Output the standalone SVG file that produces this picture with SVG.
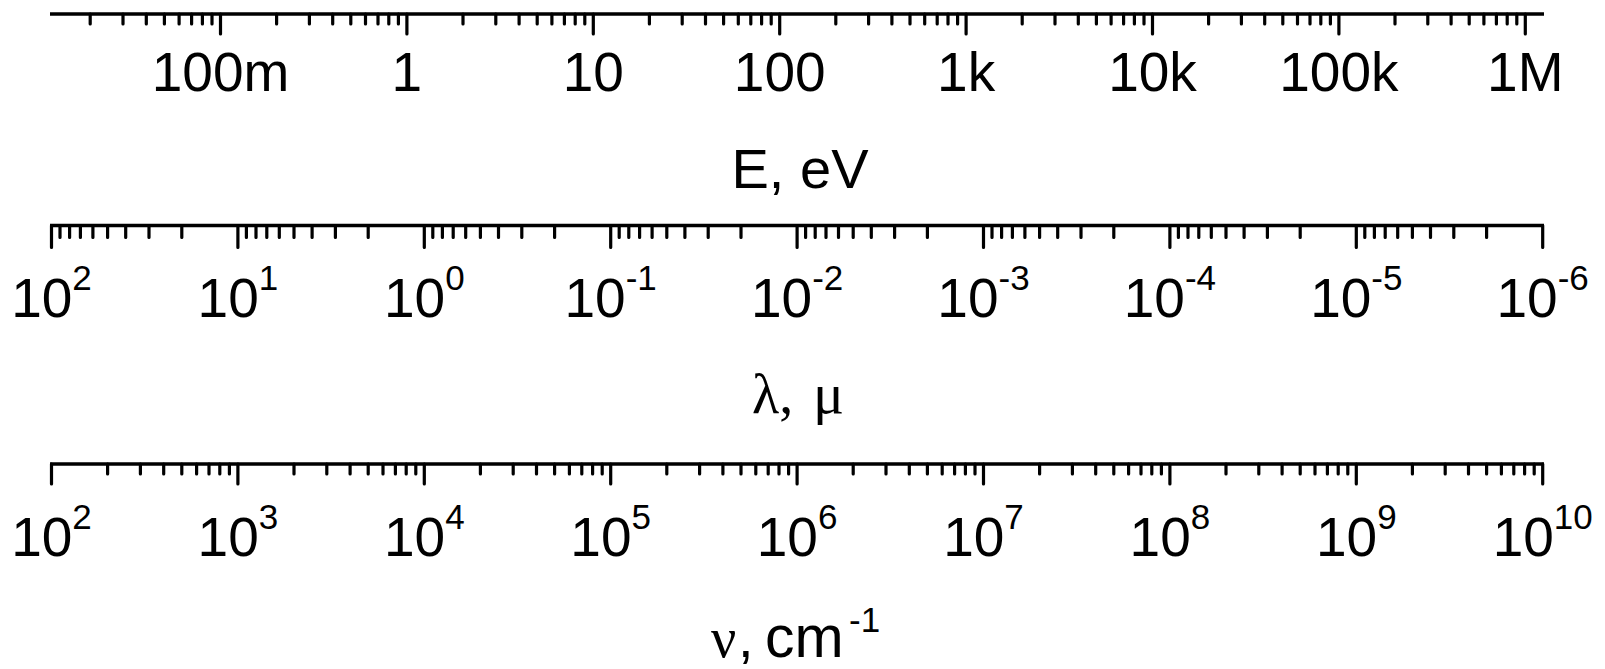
<svg xmlns="http://www.w3.org/2000/svg" width="1605" height="669" viewBox="0 0 1605 669">
<style>
.axis{stroke:#000;stroke-width:3.6;fill:none}
.tick{stroke:#000;stroke-width:3.2;fill:none;stroke-linecap:round}
.lbl{font-family:"Liberation Sans",Arial,sans-serif;font-size:55px;fill:#000;text-anchor:middle}
.sup{font-size:35px}
.title{font-family:"Liberation Sans",Arial,sans-serif;font-size:56px;fill:#000}
.mid{text-anchor:middle}
.serif{font-family:"Liberation Serif","Times New Roman",serif}
</style>
<rect width="1605" height="669" fill="#fff"/>
<g id="axis-E">
<line class="axis" x1="50" y1="14" x2="1544" y2="14"/>
<path class="tick" d="M220.5 14v20M406.9 14v20M593.3 14v20M779.7 14v20M966.1 14v20M1152.5 14v20M1338.9 14v20M1525.3 14v20"/>
<path class="tick" d="M90.2 14v10M123 14v10M146.3 14v10M164.4 14v10M179.1 14v10M191.6 14v10M202.4 14v10M212 14v10M276.6 14v10M309.4 14v10M332.7 14v10M350.8 14v10M365.5 14v10M378 14v10M388.8 14v10M398.4 14v10M463 14v10M495.8 14v10M519.1 14v10M537.2 14v10M551.9 14v10M564.4 14v10M575.2 14v10M584.8 14v10M649.4 14v10M682.2 14v10M705.5 14v10M723.6 14v10M738.3 14v10M750.8 14v10M761.6 14v10M771.2 14v10M835.8 14v10M868.6 14v10M891.9 14v10M910 14v10M924.7 14v10M937.2 14v10M948 14v10M957.6 14v10M1022.2 14v10M1055 14v10M1078.3 14v10M1096.4 14v10M1111.1 14v10M1123.6 14v10M1134.4 14v10M1144 14v10M1208.6 14v10M1241.4 14v10M1264.7 14v10M1282.8 14v10M1297.5 14v10M1310 14v10M1320.8 14v10M1330.4 14v10M1395 14v10M1427.8 14v10M1451.1 14v10M1469.2 14v10M1483.9 14v10M1496.4 14v10M1507.2 14v10M1516.8 14v10"/>
<text class="lbl" x="220.5" y="90.5">100m</text>
<text class="lbl" x="406.9" y="90.5">1</text>
<text class="lbl" x="593.3" y="90.5">10</text>
<text class="lbl" x="779.7" y="90.5">100</text>
<text class="lbl" x="966.1" y="90.5">1k</text>
<text class="lbl" x="1152.5" y="90.5">10k</text>
<text class="lbl" x="1338.9" y="90.5">100k</text>
<text class="lbl" x="1525.3" y="90.5">1M</text>
<text class="title mid" x="800" y="188">E, eV</text>
</g>
<g id="axis-lambda">
<line class="axis" x1="50" y1="225.5" x2="1544" y2="225.5"/>
<path class="tick" d="M51.5 225.5v22M237.9 225.5v22M424.3 225.5v22M610.7 225.5v22M797.1 225.5v22M983.5 225.5v22M1169.9 225.5v22M1356.3 225.5v22M1542.7 225.5v22"/>
<path class="tick" d="M60 225.5v12M69.6 225.5v12M80.4 225.5v12M92.9 225.5v12M107.6 225.5v12M125.7 225.5v12M149 225.5v12M181.8 225.5v12M246.4 225.5v12M256 225.5v12M266.8 225.5v12M279.3 225.5v12M294 225.5v12M312.1 225.5v12M335.4 225.5v12M368.2 225.5v12M432.8 225.5v12M442.4 225.5v12M453.2 225.5v12M465.7 225.5v12M480.4 225.5v12M498.5 225.5v12M521.8 225.5v12M554.6 225.5v12M619.2 225.5v12M628.8 225.5v12M639.6 225.5v12M652.1 225.5v12M666.8 225.5v12M684.9 225.5v12M708.2 225.5v12M741 225.5v12M805.6 225.5v12M815.2 225.5v12M826 225.5v12M838.5 225.5v12M853.2 225.5v12M871.3 225.5v12M894.6 225.5v12M927.4 225.5v12M992 225.5v12M1001.6 225.5v12M1012.4 225.5v12M1024.9 225.5v12M1039.6 225.5v12M1057.7 225.5v12M1081 225.5v12M1113.8 225.5v12M1178.4 225.5v12M1188 225.5v12M1198.8 225.5v12M1211.3 225.5v12M1226 225.5v12M1244.1 225.5v12M1267.4 225.5v12M1300.2 225.5v12M1364.8 225.5v12M1374.4 225.5v12M1385.2 225.5v12M1397.7 225.5v12M1412.4 225.5v12M1430.5 225.5v12M1453.8 225.5v12M1486.6 225.5v12"/>
<text class="lbl" x="51.5" y="317">10<tspan class="sup" dy="-27">2</tspan></text>
<text class="lbl" x="237.9" y="317">10<tspan class="sup" dy="-27">1</tspan></text>
<text class="lbl" x="424.3" y="317">10<tspan class="sup" dy="-27">0</tspan></text>
<text class="lbl" x="610.7" y="317">10<tspan class="sup" dy="-27">-1</tspan></text>
<text class="lbl" x="797.1" y="317">10<tspan class="sup" dy="-27">-2</tspan></text>
<text class="lbl" x="983.5" y="317">10<tspan class="sup" dy="-27">-3</tspan></text>
<text class="lbl" x="1169.9" y="317">10<tspan class="sup" dy="-27">-4</tspan></text>
<text class="lbl" x="1356.3" y="317">10<tspan class="sup" dy="-27">-5</tspan></text>
<text class="lbl" x="1542.7" y="317">10<tspan class="sup" dy="-27">-6</tspan></text>
<text class="title serif" x="752" y="413">λ,<tspan x="813" font-size="58">μ</tspan></text>
</g>
<g id="axis-nu">
<line class="axis" x1="50" y1="464" x2="1544" y2="464"/>
<path class="tick" d="M51.5 464v20M237.9 464v20M424.3 464v20M610.7 464v20M797.1 464v20M983.5 464v20M1169.9 464v20M1356.3 464v20M1542.7 464v20"/>
<path class="tick" d="M107.6 464v10M140.4 464v10M163.7 464v10M181.8 464v10M196.6 464v10M209 464v10M219.8 464v10M229.4 464v10M294 464v10M326.8 464v10M350.1 464v10M368.2 464v10M383 464v10M395.4 464v10M406.2 464v10M415.8 464v10M480.4 464v10M513.2 464v10M536.5 464v10M554.6 464v10M569.4 464v10M581.8 464v10M592.6 464v10M602.2 464v10M666.8 464v10M699.6 464v10M722.9 464v10M741 464v10M755.8 464v10M768.2 464v10M779 464v10M788.6 464v10M853.2 464v10M886 464v10M909.3 464v10M927.4 464v10M942.2 464v10M954.6 464v10M965.4 464v10M975 464v10M1039.6 464v10M1072.4 464v10M1095.7 464v10M1113.8 464v10M1128.6 464v10M1141 464v10M1151.8 464v10M1161.4 464v10M1226 464v10M1258.8 464v10M1282.1 464v10M1300.2 464v10M1315 464v10M1327.4 464v10M1338.2 464v10M1347.8 464v10M1412.4 464v10M1445.2 464v10M1468.5 464v10M1486.6 464v10M1501.4 464v10M1513.8 464v10M1524.6 464v10M1534.2 464v10"/>
<text class="lbl" x="51.5" y="556">10<tspan class="sup" dy="-27">2</tspan></text>
<text class="lbl" x="237.9" y="556">10<tspan class="sup" dy="-27">3</tspan></text>
<text class="lbl" x="424.3" y="556">10<tspan class="sup" dy="-27">4</tspan></text>
<text class="lbl" x="610.7" y="556">10<tspan class="sup" dy="-27">5</tspan></text>
<text class="lbl" x="797.1" y="556">10<tspan class="sup" dy="-27">6</tspan></text>
<text class="lbl" x="983.5" y="556">10<tspan class="sup" dy="-27">7</tspan></text>
<text class="lbl" x="1169.9" y="556">10<tspan class="sup" dy="-27">8</tspan></text>
<text class="lbl" x="1356.3" y="556">10<tspan class="sup" dy="-27">9</tspan></text>
<text class="lbl" x="1542.7" y="556">10<tspan class="sup" dy="-27">10</tspan></text>
<text class="title" x="711" y="657"><tspan class="serif">ν</tspan><tspan x="738">,</tspan><tspan x="765" font-size="59">cm</tspan><tspan class="sup" x="849" dy="-25">-1</tspan></text>
</g>
</svg>
